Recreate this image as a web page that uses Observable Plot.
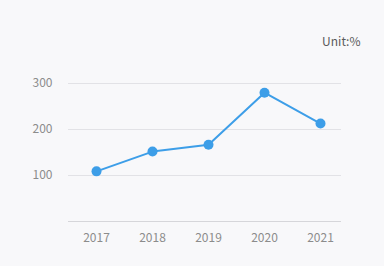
<!DOCTYPE html>
<html><head><meta charset="utf-8">
<script src="https://cdn.jsdelivr.net/npm/d3@7"></script>
<script src="https://cdn.jsdelivr.net/npm/@observablehq/plot@0.6"></script>
<style>
html,body{margin:0;padding:0;background:#f8f8fa;}
#c{width:384px;height:266px;overflow:hidden;}
</style>
</head><body><div id="c"></div>
<script>
const years = ["2017","2018","2019","2020","2021"];
const values = [109, 152, 167, 280, 213];
const yTicks = [100, 200, 300];
const unitLabel = "Unit:%";

const data = years.map((y,i)=>({year:y, value:values[i]}));

const chart = Plot.plot({
  width: 384,
  height: 266,
  marginLeft: 68,
  marginRight: 43,
  marginTop: 83,
  marginBottom: 45,
  style: {background: "#f8f8fa", fontFamily: "'Noto Sans CJK SC', 'Noto Sans', sans-serif", fontSize: "12px", overflow: "visible"},
  x: {type: "point", domain: years, range: [95, 321], padding: 0, label: null, tickSize: 0, tickPadding: 12},
  y: {domain: [0, 300], ticks: yTicks, label: null, tickSize: 0, tickPadding: 16},
  marks: [
    Plot.ruleY(yTicks, {stroke: "#e2e2e6"}),
    Plot.ruleY([0], {stroke: "#d6d6da"}),
    Plot.axisX({tickSize: 0, tickPadding: 12, fill: "#8c8c8c", fontSize: 12}),
    Plot.axisY({ticks: yTicks, tickSize: 0, tickPadding: 16, fill: "#8c8c8c", fontSize: 12}),
    Plot.line(data, {x: "year", y: "value", stroke: "#3d9ee8", strokeWidth: 2}),
    Plot.dot(data, {x: "year", y: "value", r: 5, fill: "#3d9ee8"}),
    Plot.text([unitLabel], {frameAnchor: "top-right", text: d=>d, dx: 19, dy: -46, fill: "#5a5a5a", fontSize: 12, textAnchor: "end"})
  ]
});
document.getElementById("c").appendChild(chart);
</script>
</body></html>
